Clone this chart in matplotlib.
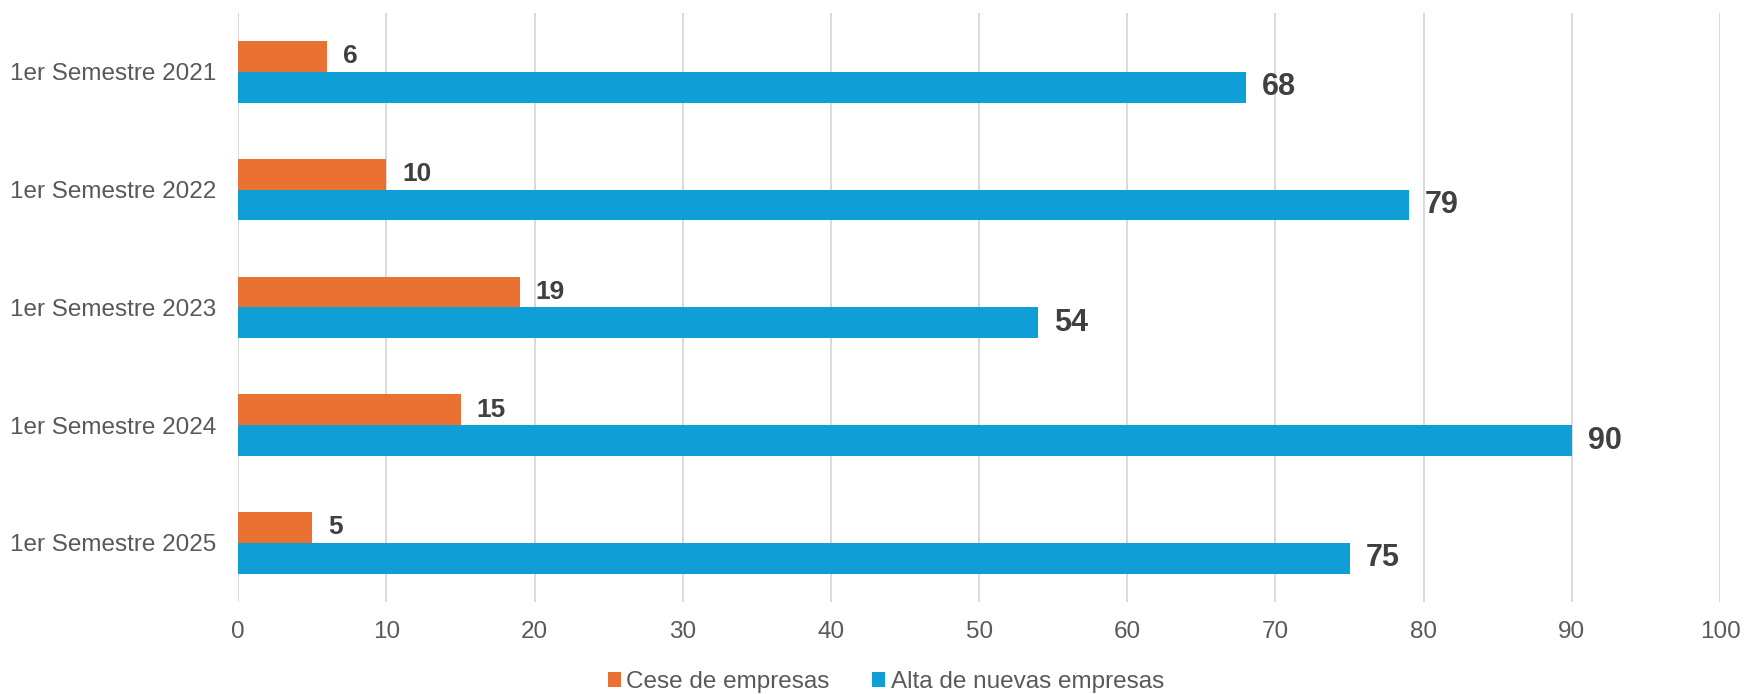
import matplotlib
matplotlib.use("Agg")
import matplotlib.pyplot as plt
from matplotlib.patches import Patch
import numpy as np

categories = ["1er Semestre 2021", "1er Semestre 2022", "1er Semestre 2023",
              "1er Semestre 2024", "1er Semestre 2025"]
cese = [6, 10, 19, 15, 5]
alta = [68, 79, 54, 90, 75]
series_names = ["Cese de empresas", "Alta de nuevas empresas"]
x_ticks = [0, 10, 20, 30, 40, 50, 60, 70, 80, 90, 100]

ORANGE = "#E97132"
BLUE = "#0F9ED5"
TICK_COLOR = "#595959"
LABEL_COLOR = "#404040"
GRID_COLOR = "#D9D9D9"

plt.rcParams['font.family'] = ['Liberation Sans', 'DejaVu Sans']

W, H = 1744, 694
fig = plt.figure(figsize=(W / 100, H / 100), dpi=100)
ax = fig.add_axes([238.3 / W, 1 - 601.7 / H, (1720 - 238.3) / W, (601.7 - 13) / H])

y = np.arange(len(categories))
bw = 0.262
ax.barh(y - bw / 2, cese, height=bw, color=ORANGE, zorder=3)
ax.barh(y + bw / 2, alta, height=bw, color=BLUE, zorder=3)

ax.set_xlim(0, 100)
ax.set_ylim(len(categories) - 0.5, -0.5)
ax.set_xticks(x_ticks)
ax.set_xticklabels([str(t) for t in x_ticks])
ax.set_yticks(y)
ax.set_yticklabels(categories)
ax.tick_params(axis='x', length=0, pad=14, labelsize=17.5, labelcolor=TICK_COLOR)
ax.tick_params(axis='y', length=0, pad=16, labelsize=17.5, labelcolor=TICK_COLOR)
for s in ax.spines.values():
    s.set_visible(False)
ax.xaxis.grid(True, color=GRID_COLOR, linewidth=1.4, zorder=0)
ax.set_axisbelow(True)

for i, v in enumerate(cese):
    ax.annotate(str(v), xy=(v, i - bw / 2), xytext=(11.5, 0), textcoords='offset points',
                ha='left', va='center', fontsize=19, fontweight='bold', color=LABEL_COLOR)
for i, v in enumerate(alta):
    ax.annotate(str(v), xy=(v, i + bw / 2), xytext=(11.5, 0), textcoords='offset points',
                ha='left', va='center', fontsize=22, fontweight='bold', color=LABEL_COLOR)

handles = [Patch(facecolor=ORANGE, edgecolor='none'), Patch(facecolor=BLUE, edgecolor='none')]
leg = fig.legend(handles, series_names, loc='center', bbox_to_anchor=(885.7 / W, 1 - 682 / H),
                 ncol=2, frameon=False, fontsize=17.5, handlelength=0.55, handleheight=0.55,
                 handletextpad=0.21, columnspacing=1.75, borderaxespad=0, borderpad=0)
for t in leg.get_texts():
    t.set_color(TICK_COLOR)

fig.savefig("out.png", dpi=100)
